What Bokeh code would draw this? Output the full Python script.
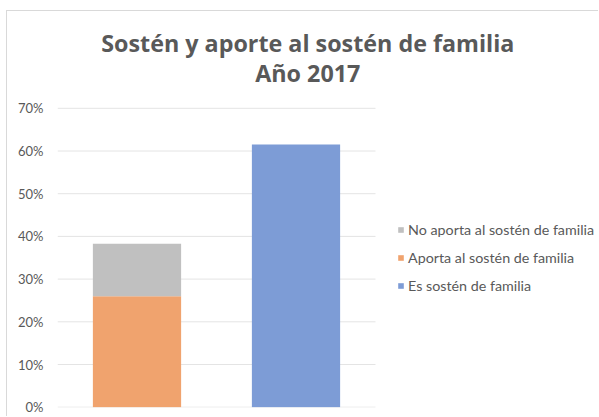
from bokeh.plotting import figure
from bokeh.models import (Range1d, FixedTicker, NumeralTickFormatter,
                          Legend, LegendItem, Label, ColumnDataSource)
from bokeh.embed import file_html
from bokeh.resources import INLINE

# ---- data ----
categories = ["Aporte", "Sostén"]
aporta = [0.26, 0.0]
no_aporta = [0.123, 0.0]
es_sosten = [0.0, 0.615]
series_names = ["Aporta al sostén de familia", "No aporta al sostén de familia", "Es sostén de familia"]
y_ticks = [0.0, 0.1, 0.2, 0.3, 0.4, 0.5, 0.6, 0.7]
title_lines = ["Sostén y aporte al sostén de familia", "Año 2017"]

FONT = "Lato"
TFONT = "Open Sans"
TXT = "#595959"

n = len(categories)
p = figure(width=592, height=406, output_backend="svg", toolbar_location=None, title=None,
           x_range=Range1d(0, 3.4088),
           y_range=Range1d(-0.0007, 0.9267),
           min_border_left=50, min_border_right=0, min_border_top=0, min_border_bottom=10)
p.styles = {"border-left": "1px solid #D9D9D9", "border-top": "1px solid #D9D9D9",
            "margin-left": "6px", "margin-top": "10px"}
p.outline_line_color = None
p.background_fill_color = "white"
p.border_fill_color = "white"

# horizontal gridlines limited to the category extent
gsrc = ColumnDataSource(dict(x0=[0] * len(y_ticks), x1=[n] * len(y_ticks), y=y_ticks))
p.segment(x0="x0", x1="x1", y0="y", y1="y", source=gsrc, line_color="#E4E4E4", line_width=1)

src = dict(x=[i + 0.5 for i in range(n)], aporta=aporta, no_aporta=no_aporta, es=es_sosten)
colors = ["#F0A36E", "#C0C0C0", "#7D9CD6"]
rs = p.vbar_stack(["aporta", "no_aporta", "es"], x="x", width=0.555, source=src,
                  color=colors, line_color=None)

p.xaxis.visible = False
p.xgrid.grid_line_color = None
p.ygrid.grid_line_color = None
p.yaxis.ticker = FixedTicker(ticks=y_ticks)
p.yaxis.formatter = NumeralTickFormatter(format="0%")
p.yaxis.axis_line_color = None
p.yaxis.major_tick_line_color = None
p.yaxis.minor_tick_line_color = None
p.yaxis.major_tick_out = 0
p.yaxis.major_label_standoff = 14
p.yaxis.major_label_text_font = FONT
p.yaxis.major_label_text_font_size = "13px"
p.yaxis.major_label_text_color = TXT

legend = Legend(items=[LegendItem(label=series_names[1], renderers=[rs[1]]),
                       LegendItem(label=series_names[0], renderers=[rs[0]]),
                       LegendItem(label=series_names[2], renderers=[rs[2]])],
                location=(340, 112), orientation="vertical")
legend.glyph_width = 7
legend.glyph_height = 7
legend.label_height = 20
legend.spacing = 8
legend.label_standoff = 4
legend.padding = 0
legend.margin = 0
legend.border_line_color = None
legend.background_fill_alpha = 0
legend.label_text_font = FONT
legend.label_text_font_size = "14.3px"
legend.label_text_color = TXT
p.add_layout(legend, "center")

for txt, yy in zip(title_lines, [0.852, 0.782]):
    p.add_layout(Label(x=1.574, y=yy, text=txt, text_align="center",
                       text_baseline="alphabetic", text_font=TFONT,
                       text_font_style="bold", text_font_size="23.3px", text_color=TXT))

open("out.html", "w").write(file_html(p, INLINE))
